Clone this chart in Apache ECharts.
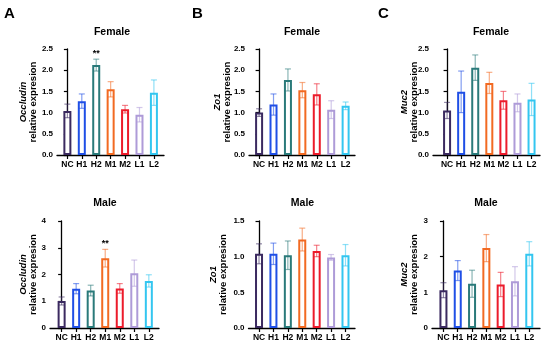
<!DOCTYPE html>
<html>
<head>
<meta charset="utf-8">
<script src="https://cdn.jsdelivr.net/npm/echarts@6/dist/echarts.min.js"></script>
<style>html,body{margin:0;padding:0;background:#fff}#c{width:550px;height:348px}</style>
</head>
<body>
<div id="c"></div>
<script>
// ---------- data ----------
const categories = ['NC', 'H1', 'H2', 'M1', 'M2', 'L1', 'L2'];

const occludinFemale    = [1.04, 1.27, 2.12, 1.55, 1.08, 0.95, 1.47];
const occludinFemaleErr = [0.16, 0.17, 0.14, 0.18, 0.09, 0.17, 0.30];
const occludinFemaleSig = ['', '', '**', '', '', '', ''];

const zo1Female    = [1.00, 1.19, 1.77, 1.53, 1.43, 1.07, 1.16];
const zo1FemaleErr = [0.09, 0.25, 0.26, 0.18, 0.25, 0.21, 0.09];
const zo1FemaleSig = ['', '', '', '', '', '', ''];

const muc2Female    = [1.05, 1.49, 2.06, 1.70, 1.29, 1.23, 1.31];
const muc2FemaleErr = [0.19, 0.49, 0.30, 0.25, 0.21, 0.21, 0.38];
const muc2FemaleSig = ['', '', '', '', '', '', ''];

const occludinMale    = [1.01, 1.47, 1.40, 2.61, 1.48, 2.05, 1.76];
const occludinMaleErr = [0.15, 0.19, 0.20, 0.33, 0.18, 0.49, 0.23];
const occludinMaleSig = ['', '', '', '**', '', '', ''];

const zo1Male    = [1.04, 1.04, 1.02, 1.24, 1.08, 0.99, 1.02];
const zo1MaleErr = [0.14, 0.15, 0.20, 0.16, 0.08, 0.04, 0.15];
const zo1MaleSig = ['', '', '', '', '', '', ''];

const muc2Male    = [1.06, 1.61, 1.24, 2.24, 1.22, 1.31, 2.08];
const muc2MaleErr = [0.21, 0.28, 0.38, 0.38, 0.34, 0.41, 0.34];
const muc2MaleSig = ['', '', '', '', '', '', ''];

const yTicksOccludinFemale = [0, 0.5, 1.0, 1.5, 2.0, 2.5];
const yTicksZo1Female      = [0, 0.5, 1.0, 1.5, 2.0, 2.5];
const yTicksMuc2Female     = [0, 0.5, 1.0, 1.5, 2.0, 2.5];
const yTicksOccludinMale   = [0, 1, 2, 3, 4];
const yTicksZo1Male        = [0, 0.5, 1.0, 1.5];
const yTicksMuc2Male       = [0, 1, 2, 3];

const panelLetters = ['A', 'B', 'C'];
const rowTitles = ['Female', 'Male'];
const geneNames = ['Occludin', 'Zo1', 'Muc2'];

// ---------- styles ----------
const barColors = ['#3b2a60', '#1f4fe6', '#2a7a7a', '#f26a22', '#ec1b2b', '#ae9bd8', '#33c6f0'];
const FONT = 'Arial, "Liberation Sans", sans-serif';

function rgba(hex, a) {
  const n = parseInt(hex.slice(1), 16);
  return 'rgba(' + ((n >> 16) & 255) + ',' + ((n >> 8) & 255) + ',' + (n & 255) + ',' + a + ')';
}

const panels = [
  {vals: occludinFemale, err: occludinFemaleErr, sig: occludinFemaleSig, ticks: yTicksOccludinFemale, gene: 0, dec: 1,
   left: 57, top: 49, width: 107, height: 106, xmin: -0.72, xmax: 6.7, nameGap: 19},
  {vals: zo1Female, err: zo1FemaleErr, sig: zo1FemaleSig, ticks: yTicksZo1Female, gene: 1, dec: 1,
   left: 249, top: 49, width: 106, height: 106, xmin: -0.7, xmax: 6.65, nameGap: 17},
  {vals: muc2Female, err: muc2FemaleErr, sig: muc2FemaleSig, ticks: yTicksMuc2Female, gene: 2, dec: 1,
   left: 433, top: 49, width: 107, height: 106, xmin: -1.0, xmax: 6.6, nameGap: 14},
  {vals: occludinMale, err: occludinMaleErr, sig: occludinMaleSig, ticks: yTicksOccludinMale, gene: 0, dec: 0,
   left: 50, top: 221, width: 109, height: 107, xmin: -0.8, xmax: 6.7, nameGap: 12},
  {vals: zo1Male, err: zo1MaleErr, sig: zo1MaleSig, ticks: yTicksZo1Male, gene: 1, dec: 1,
   left: 248.5, top: 221, width: 106.5, height: 107, xmin: -0.73, xmax: 6.66, nameGap: 20},
  {vals: muc2Male, err: muc2MaleErr, sig: muc2MaleSig, ticks: yTicksMuc2Male, gene: 2, dec: 0,
   left: 432, top: 221, width: 108, height: 107, xmin: -0.8, xmax: 6.75, nameGap: 13}
];

const grids = [], xAxes = [], yAxes = [], series = [];
const catIdx = categories.map((c, i) => i);

panels.forEach((p, k) => {
  grids.push({left: p.left, top: p.top, width: p.width, height: p.height});
  xAxes.push({
    type: 'value', gridIndex: k, min: p.xmin, max: p.xmax,
    axisLine: {show: true, onZero: false, lineStyle: {color: '#000', width: 1.3}},
    axisTick: {show: true, customValues: catIdx, length: 4, lineStyle: {color: '#000', width: 1.2}},
    axisLabel: {show: true, customValues: catIdx, margin: 5, formatter: v => categories[Math.round(v)],
      color: '#000', fontWeight: 'bold', fontSize: 8.5, fontFamily: FONT},
    splitLine: {show: false}
  });
  const t = p.ticks;
  yAxes.push({
    type: 'value', gridIndex: k, min: t[0], max: t[t.length - 1], interval: t[1] - t[0],
    axisLine: {show: true, lineStyle: {color: '#000', width: 1.3}},
    axisTick: {show: true, length: 3.5, lineStyle: {color: '#000', width: 1.2}},
    axisLabel: {margin: 4, formatter: v => v.toFixed(p.dec), color: '#000', fontWeight: 'bold', fontSize: 8, fontFamily: FONT},
    splitLine: {show: false},
    name: '{i|' + geneNames[p.gene] + '}\n{n|relative expresion}',
    nameLocation: 'middle', nameRotate: 90, nameGap: p.nameGap, nameMoveOverlap: false,
    nameTextStyle: {
      lineHeight: 10,
      rich: {
        i: {fontStyle: 'italic', fontWeight: 'bold', fontSize: 9.5, fontFamily: FONT, color: '#000', lineHeight: 10},
        n: {fontWeight: 'bold', fontSize: 9.5, fontFamily: FONT, color: '#000', lineHeight: 10}
      }
    }
  });
  series.push({
    type: 'bar', xAxisIndex: k, yAxisIndex: k, barWidth: 8, z: 2,
    data: p.vals.map((v, j) => ({value: [j, v], itemStyle: {color: '#fff', borderColor: barColors[j], borderWidth: 2}})),
    animation: false
  });
  series.push({
    type: 'custom', xAxisIndex: k, yAxisIndex: k, z: 5, animation: false,
    data: p.vals.map((v, j) => [j, v, p.err[j]]),
    renderItem: function (params, api) {
      const j = params.dataIndex;
      const x = api.value(0), m = api.value(1), e = api.value(2);
      const top = api.coord([x, m + e]);
      const bot = api.coord([x, m - e]);
      const col = rgba(barColors[j], 0.55);
      const hw = 3;
      const st = {stroke: col, lineWidth: 1.2};
      const children = [
        {type: 'line', shape: {x1: top[0], y1: top[1], x2: bot[0], y2: bot[1]}, style: st},
        {type: 'line', shape: {x1: top[0] - hw, y1: top[1], x2: top[0] + hw, y2: top[1]}, style: st},
        {type: 'line', shape: {x1: bot[0] - hw, y1: bot[1], x2: bot[0] + hw, y2: bot[1]}, style: st}
      ];
      if (p.sig[j]) {
        children.push({type: 'text', x: top[0], y: top[1] - 1,
          style: {text: p.sig[j], fill: '#000', font: 'bold 9px ' + FONT, textAlign: 'center', textVerticalAlign: 'bottom'}});
      }
      return {type: 'group', children: children};
    }
  });
});

const graphics = [];
const letterX = [9.5, 197.5, 383.5];
panelLetters.forEach((L, i) => graphics.push({type: 'text', x: letterX[i], y: 14,
  style: {text: L, font: 'bold 15px ' + FONT, fill: '#000', textAlign: 'center', textVerticalAlign: 'middle'}}));
const titlePos = [[112, 32], [302, 32], [491, 32], [105, 203], [302.5, 203], [486, 203]];
titlePos.forEach((pos, i) => graphics.push({type: 'text', x: pos[0], y: pos[1],
  style: {text: rowTitles[i < 3 ? 0 : 1], font: 'bold 10.5px ' + FONT, fill: '#000', textAlign: 'center', textVerticalAlign: 'middle'}}));

const chart = echarts.init(document.getElementById('c'), null, {renderer: 'canvas'});
chart.setOption({
  animation: false,
  backgroundColor: '#fff',
  grid: grids, xAxis: xAxes, yAxis: yAxes, series: series,
  graphic: graphics
});
</script>
</body>
</html>
